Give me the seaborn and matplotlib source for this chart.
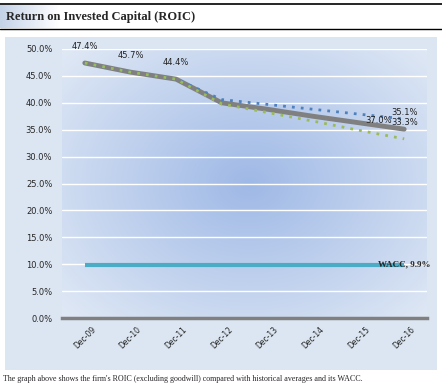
import numpy as np
import pandas as pd
import matplotlib
matplotlib.use('Agg')
import matplotlib.pyplot as plt
import seaborn as sns
import matplotlib.ticker as ticker

# chart values
years = ['Dec-09', 'Dec-10', 'Dec-11', 'Dec-12', 'Dec-13', 'Dec-14', 'Dec-15', 'Dec-16']
roic = [47.4, 45.7, 44.4, 40.0, 38.8, 37.5, 36.3, 35.1]
avg_blue = [47.4, 45.7, 44.4, 40.6, 39.7, 38.8, 37.9, 37.0]
avg_green = [47.4, 45.7, 44.4, 39.8, 38.2, 36.6, 34.9, 33.3]
wacc = 9.9

df = pd.DataFrame({'Year': years, 'ROIC': roic, 'Avg1': avg_blue, 'Avg2': avg_green})
df['x'] = range(len(years))

sns.set_style('white')
plt.rcParams['font.family'] = ['DejaVu Sans']

fig = plt.figure(figsize=(4.42, 3.89), dpi=100)

# panel background and title rules
bg = fig.add_axes([0, 0, 1, 1], zorder=-10)
bg.set_xlim(0, 442)
bg.set_ylim(389, 0)
bg.axis('off')
bg.add_patch(plt.Rectangle((5, 37), 432, 333, color='#dce6f2', lw=0))
grad = np.linspace(0, 1, 60)[None, :]
bg.imshow(grad, extent=(0, 60, 28, 5), cmap=matplotlib.colors.LinearSegmentedColormap.from_list('t', ['#c5d3e8', '#ffffff']), aspect='auto')
bg.plot([0, 442], [4, 4], color='black', lw=1.2)
bg.plot([0, 442], [28.5, 28.5], color='black', lw=1.0)
bg.text(6, 17, 'Return on Invested Capital (ROIC)', family='Liberation Serif', fontweight='bold', fontsize=9, va='center')
bg.text(3, 379, "The graph above shows the firm's ROIC (excluding goodwill) compared with historical averages and its WACC.",
        family='Liberation Serif', fontsize=5.8, va='center')

ax = fig.add_axes([62/442, 1 - 318/389, 365/442, 269/389])
ax.set_xlim(-0.5, len(years) - 0.5)
ax.set_ylim(0, 50)

# radial gradient in plot area
gx, gy = np.meshgrid(np.linspace(-0.5, len(years) - 0.5, 200), np.linspace(0, 50, 200))
d = np.sqrt(((gx - 3.6) / 5.5) ** 2 + ((gy - 25) / 36) ** 2)
d = np.clip(d, 0, 1)
cmap = matplotlib.colors.LinearSegmentedColormap.from_list('r', ['#9fb9e6', '#dfe8f5'])
ax.imshow(d, extent=(-0.5, len(years) - 0.5, 0, 50), origin='lower', cmap=cmap, aspect='auto', zorder=0)

for yv in range(5, 55, 5):
    ax.axhline(yv, color='white', lw=1.0, zorder=1)

ax.plot([0, len(years) - 1], [wacc, wacc], color='#4bacc6', lw=3, zorder=2, solid_capstyle='butt')
sns.lineplot(data=df, x='x', y='ROIC', color='#808080', lw=3.5, ax=ax, zorder=3)
sns.lineplot(data=df, x='x', y='Avg1', color='#4f81bd', lw=2, linestyle=(0, (1, 2.2)), ax=ax, zorder=4)
sns.lineplot(data=df, x='x', y='Avg2', color='#9bbb59', lw=2, linestyle=(0, (1, 2.2)), ax=ax, zorder=5)

lab = dict(fontsize=6, color='#222222', zorder=6)
for i in range(3):
    ax.text(i, roic[i] + 3.0, f'{roic[i]:.1f}%', ha='center', va='center', **lab)
ax.text(6.43, avg_blue[-1] - 0.2, f'{avg_blue[-1]:.1f}%', ha='center', va='center', **lab)
ax.text(7.0, roic[-1] + 3.1, f'{roic[-1]:.1f}%', ha='center', va='center', **lab)
ax.text(7.0, avg_green[-1] + 3.0, f'{avg_green[-1]:.1f}%', ha='center', va='center', **lab)
ax.text(7.0, wacc, f'WACC, {wacc:.1f}%', family='Liberation Serif', fontweight='bold', fontsize=6.5, ha='center', va='center', zorder=6)

ax.set_xticks(np.arange(-0.5, len(years), 1), minor=True)
ax.set_xticks(range(len(years)))
ax.set_xticklabels(years, rotation=45, ha='center', va='top', fontsize=5.5)
ax.tick_params(axis='x', which='major', length=0, pad=5)
ax.tick_params(axis='x', which='minor', length=3, color='#808080', width=1, direction='out')
ax.set_yticks(range(0, 55, 5))
ax.yaxis.set_major_formatter(ticker.FuncFormatter(lambda v, p: f'{v:.1f}%'))
ax.tick_params(axis='y', length=0, labelsize=6, pad=7)
ax.set_xlabel('')
ax.set_ylabel('')
for s in ['top', 'right', 'left']:
    ax.spines[s].set_visible(False)
ax.spines['bottom'].set_color('#808080')
ax.spines['bottom'].set_linewidth(2.5)
ax.spines['bottom'].set_zorder(7)

fig.savefig('out.png', dpi=100)
